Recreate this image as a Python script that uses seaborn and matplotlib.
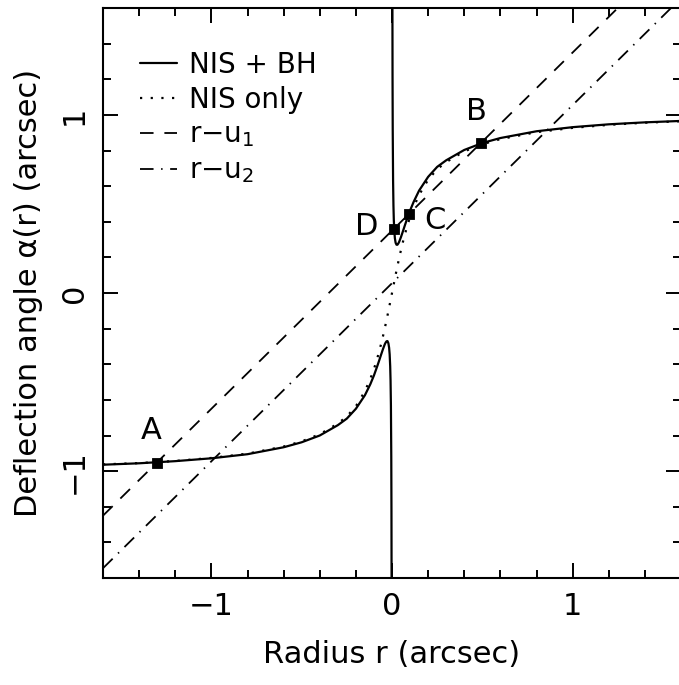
import matplotlib
matplotlib.use("Agg")
import matplotlib.pyplot as plt
import seaborn as sns
import pandas as pd

# ---------------- data ----------------
# NIS + BH, branch r > 0
r_bh_pos = [0.002, 0.003, 0.004, 0.006, 0.008, 0.010, 0.013, 0.016, 0.020, 0.025,
            0.030, 0.035, 0.040, 0.050, 0.060, 0.070, 0.080, 0.100, 0.120, 0.150,
            0.200, 0.250, 0.300, 0.400, 0.500, 0.600, 0.800, 1.000, 1.200, 1.400, 1.600]
a_bh_pos = [1.810, 1.215, 0.921, 0.631, 0.491, 0.411, 0.344, 0.307, 0.282, 0.271,
            0.271, 0.278, 0.288, 0.315, 0.345, 0.376, 0.406, 0.463, 0.512, 0.575,
            0.652, 0.708, 0.745, 0.803, 0.842, 0.870, 0.908, 0.931, 0.947, 0.958, 0.966]
# NIS + BH, branch r < 0
r_bh_neg = [-1.600, -1.400, -1.200, -1.000, -0.800, -0.600, -0.500, -0.400, -0.300, -0.250,
            -0.200, -0.150, -0.120, -0.100, -0.080, -0.070, -0.060, -0.050, -0.040, -0.035,
            -0.030, -0.025, -0.020, -0.016, -0.013, -0.010, -0.008, -0.006, -0.004, -0.003, -0.002]
a_bh_neg = [-0.964, -0.956, -0.944, -0.928, -0.905, -0.866, -0.838, -0.800, -0.742, -0.705,
            -0.650, -0.574, -0.512, -0.463, -0.406, -0.376, -0.345, -0.315, -0.288, -0.278,
            -0.271, -0.270, -0.282, -0.307, -0.344, -0.411, -0.491, -0.631, -0.921, -1.215, -1.810]
# NIS only
r_nis = [-1.60, -1.40, -1.20, -1.00, -0.80, -0.60, -0.50, -0.40, -0.30, -0.25, -0.20,
         -0.15, -0.12, -0.10, -0.08, -0.06, -0.05, -0.04, -0.03, -0.02, -0.01, 0.00,
         0.01, 0.02, 0.03, 0.04, 0.05, 0.06, 0.08, 0.10, 0.12, 0.15, 0.20, 0.25,
         0.30, 0.40, 0.50, 0.60, 0.80, 1.00, 1.20, 1.40, 1.60]
a_nis = [-0.962, -0.955, -0.943, -0.926, -0.902, -0.862, -0.833, -0.793, -0.733, -0.693, -0.636,
         -0.551, -0.482, -0.427, -0.361, -0.285, -0.243, -0.198, -0.151, -0.102, -0.051, 0.000,
         0.051, 0.102, 0.151, 0.198, 0.243, 0.285, 0.361, 0.427, 0.482, 0.551, 0.636, 0.695,
         0.735, 0.795, 0.835, 0.864, 0.903, 0.927, 0.944, 0.956, 0.964]
# straight lines r - u1 and r - u2 (end points)
r_line = [-1.6, 1.6]
a_u1 = [-1.25, 1.95]
a_u2 = [-1.545, 1.655]
# image positions
img_labels = ["A", "B", "C", "D"]
img_r = [-1.300, 0.490, 0.094, 0.012]
img_a = [-0.952, 0.840, 0.445, 0.362]
lbl_r = [-1.335, 0.465, 0.238, -0.139]
lbl_a = [-0.772, 1.020, 0.406, 0.372]

x_ticks = [-1, 0, 1]
y_ticks = [-1, 0, 1]

# ---------------- plotting ----------------
sns.set_theme(style="ticks")
plt.rcParams["font.family"] = ["DejaVu Sans"]
plt.rcParams["mathtext.default"] = "regular"
plt.rcParams["text.color"] = "black"
plt.rcParams["axes.labelcolor"] = "black"
plt.rcParams["xtick.color"] = "black"
plt.rcParams["ytick.color"] = "black"
plt.rcParams["xtick.labelcolor"] = "black"
plt.rcParams["ytick.labelcolor"] = "black"

fig = plt.figure(figsize=(6.79, 6.85), dpi=100)
ax = fig.add_axes([103 / 679, 107 / 685, 578 / 679, 570 / 685])

df_pos = pd.DataFrame({"r": r_bh_pos, "a": a_bh_pos})
df_neg = pd.DataFrame({"r": r_bh_neg, "a": a_bh_neg})
df_nis = pd.DataFrame({"r": r_nis, "a": a_nis})
df_l = pd.DataFrame({"r": r_line, "u1": a_u1, "u2": a_u2})
df_img = pd.DataFrame({"r": img_r, "a": img_a})

sns.lineplot(data=df_pos, x="r", y="a", ax=ax, color="black", lw=1.6,
             label="NIS + BH", sort=False)
sns.lineplot(data=df_neg, x="r", y="a", ax=ax, color="black", lw=1.6,
             label="_nolegend_", sort=False)
sns.lineplot(data=df_nis, x="r", y="a", ax=ax, color="black", lw=1.6,
             linestyle=(0, (1, 3.8)), label="NIS only", sort=False)
sns.lineplot(data=df_l, x="r", y="u1", ax=ax, color="black", lw=1.3,
             linestyle=(0, (7.5, 6.0)), label="r\u2212u$_1$", sort=False)
sns.lineplot(data=df_l, x="r", y="u2", ax=ax, color="black", lw=1.3,
             linestyle=(0, (7.5, 4.2, 0.8, 4.2)), label="r\u2212u$_2$", sort=False)
sns.scatterplot(data=df_img, x="r", y="a", ax=ax, marker="s", s=55,
                color="black", edgecolor="black", zorder=5, legend=False)

for t, xr, ya in zip(img_labels, lbl_r, lbl_a):
    ax.text(xr, ya, t, ha="center", va="center", fontsize=22, color="black")

ax.set_xlim(-1.6, 1.6)
ax.set_ylim(-1.6, 1.6)
ax.set_xticks(x_ticks)
ax.set_yticks(y_ticks)
ax.set_xticks([v / 10 for v in range(-14, 16, 2)], minor=True)
ax.set_yticks([v / 10 for v in range(-14, 16, 2)], minor=True)
ax.tick_params(which="both", direction="in", top=True, right=True,
               width=1.4, color="black", labelcolor="black", labelsize=22)
ax.tick_params(which="major", length=11, pad=10)
ax.tick_params(which="minor", length=5.5)
for lab in ax.get_yticklabels():
    lab.set_rotation(90)
    lab.set_va("center")
for s in ax.spines.values():
    s.set_linewidth(1.5)
    s.set_color("black")

ax.set_xlabel("Radius r (arcsec)", fontsize=22, labelpad=14, color="black")
ax.set_ylabel("Deflection angle \u03b1(r) (arcsec)", fontsize=22, labelpad=12,
              color="black")

leg = ax.legend(loc="upper left", bbox_to_anchor=(0.064, 0.925), frameon=False,
                fontsize=20, handlelength=1.35, handletextpad=0.4,
                labelspacing=0.25, borderpad=0, borderaxespad=0)
for txt in leg.get_texts():
    txt.set_color("black")

fig.savefig("out.png", dpi=100)
